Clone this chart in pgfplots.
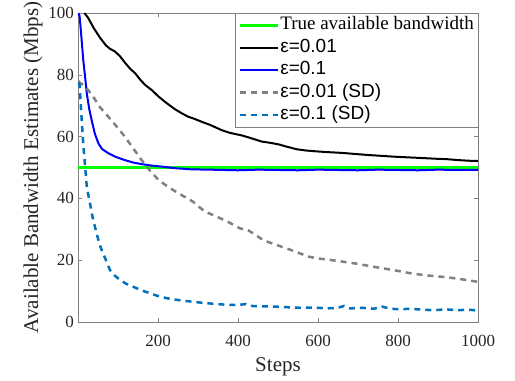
\documentclass[border=0pt]{standalone}
\usepackage{fontspec}
\setmainfont{Liberation Serif}
\setsansfont{Liberation Sans}
\usepackage{pgfplots}
\pgfplotsset{compat=1.18}
\definecolor{mblue}{RGB}{0,114,189}
\definecolor{txt}{RGB}{38,38,38}
\definecolor{mgreen}{RGB}{0,255,0}
\definecolor{mgray}{RGB}{128,128,128}
\begin{document}
\begin{tikzpicture}
\useasboundingbox (-78bp,-59bp) rectangle (437bp,322bp);
\begin{axis}[
  at={(0,0)}, anchor=south west,
  scale only axis, width=400bp, height=309bp,
  xmin=0, xmax=1000, ymin=0, ymax=100,
  xtick={200,400,...,1000}, ytick={0,20,...,100},
  tick align=inside, major tick length=4bp,
  axis line style={mgray}, every tick/.style={mgray},
  tick label style={font=\fontsize{17bp}{20bp}\selectfont, text=txt},
  /pgf/number format/assume math mode=true,
  /pgf/number format/1000 sep={},
  scaled ticks=false,
  xticklabel style={inner sep=0pt, anchor=north, yshift=-13bp},
  yticklabel style={inner sep=0pt, anchor=east, xshift=-4bp},
  xlabel={Steps},
  ylabel={Available Bandwidth Estimates (Mbps)},
  xlabel style={at={(axis description cs:0.5,-0.1618)}, anchor=base, font=\fontsize{21bp}{24bp}\selectfont, text=txt},
  ylabel style={at={(axis description cs:-0.1125,0.5)}, anchor=center, font=\fontsize{21bp}{24bp}\selectfont, text=txt},
  legend style={at={(1,1)}, anchor=north east, draw=mgray, fill=white,
    font=\fontsize{19bp}{22bp}\selectfont, text=black,
    inner xsep=3bp, inner ysep=1bp,
    nodes={text height=13.5bp, text depth=4.5bp, inner ysep=2.2bp, inner xsep=1bp}},
  legend cell align=left,
  legend image code/.code={\draw[#1] (0bp,0bp) -- (38bp,0bp);},
]
\addplot[mgreen, line width=3bp] coordinates {(0,50) (1000,50)};
\addlegendentry{True available bandwidth}

\addplot[black, line width=2bp] coordinates {
(16,100) (25,98.5) (40,95) (55,92) (70,89.5) (80,88.4) (92,87.6) (105,86) (117,84) (130,82) (143,80.5) (155,78.5) (168,76.7) (185,75) (201,73) (220,71) (243,68.8) (260,67.5) (276,66.4) (290,65.8) (309,64.8) (330,63.8) (359,62.1) (380,61.2) (409,60.4) (430,59.6) (459,58.4) (480,58) (501,57.5) (520,56.8) (547,55.9) (570,55.5) (588,55.3) (620,55) (650,54.8) (672,54.6) (700,54.3) (730,54) (755,53.8) (790,53.5) (838,53.2) (870,53) (900,52.8) (922,52.7) (950,52.4) (975,52.2) (1000,52.1)};
\addlegendentry{\sffamily ε=0.01}

\addplot[blue, line width=2bp] coordinates {
(1,100) (4,99) (8,93) (13,85) (18,79) (22,74) (28,69) (34,65.4) (42,61) (51,57.8) (60,56) (76,54.6) (95,53.4) (117,52.4) (138,51.6) (159,51.1) (185,50.6) (209,50.3) (240,49.8) (284,49.4) (330,49.3) (400,49.1) (450,49.3) (500,49.2) (550,49.1) (600,49.3) (650,49.2) (700,49.1) (750,49.3) (800,49.2) (850,49.1) (900,49.3) (950,49.2) (1000,49.2)};
\addlegendentry{\sffamily ε=0.1}

\addplot[mgray, line width=2.5bp, dash pattern=on 6bp off 5bp] coordinates {
(1,78) (4,77.5) (15,76.5) (26,75) (40,72.5) (55,69.5) (76,66.4) (95,63.5) (117,60) (138,56.2) (159,52.4) (180,49) (201,46) (220,44.2) (238,42.7) (260,41) (288,38.9) (300,37.5) (318,35.7) (347,34.1) (375,32.4) (405,30.3) (425,29.7) (438,28.7) (463,26.5) (490,25.2) (522,23.8) (555,22.2) (575,21.2) (597,20.6) (630,20.1) (663,19.5) (700,18.8) (738,17.9) (770,17.2) (797,16.6) (830,15.8) (863,15.2) (895,14.8) (922,14.5) (960,13.8) (1000,13.0)};
\addlegendentry{\sffamily ε=0.01 (SD)}

\addplot[mblue, line width=2.5bp, dash pattern=on 6bp off 5bp] coordinates {
(1,77.5) (4,76.7) (8,68) (13,57.8) (18,50) (22,43.8) (26,41) (32,37) (38,33) (45,29.5) (51,26.5) (57,24) (63,22.2) (72,19.3) (80,16.8) (92,15) (105,13.6) (120,12.4) (138,11.4) (160,10.2) (180,9.3) (200,8.4) (222,7.7) (240,7.3) (263,6.9) (290,6.5) (320,6.1) (347,5.8) (370,5.6) (400,5.5) (420,5.8) (430,5.2) (460,5.1) (490,5.0) (520,4.8) (555,4.6) (590,4.7) (620,4.4) (650,4.6) (665,5.2) (680,4.4) (710,4.6) (740,4.3) (760,5.0) (780,4.3) (805,4.1) (830,4.3) (860,4.0) (890,3.8) (920,4.1) (950,3.8) (975,4.0) (1000,3.7)};
\addlegendentry{\sffamily ε=0.1 (SD)}
\end{axis}
\end{tikzpicture}
\end{document}
